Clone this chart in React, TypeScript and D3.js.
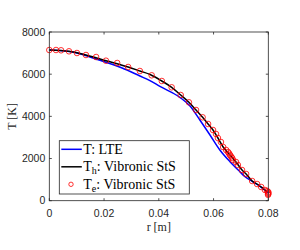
import React from 'react';
import * as d3 from 'd3';

const width = 300;
const height = 250;
const margin = { left: 49.3, right: 31.7, top: 32, bottom: 49.3 };
const innerW = width - margin.left - margin.right;
const innerH = height - margin.top - margin.bottom;

// T: LTE (blue line)
const lteR = [0, 0.0083, 0.0182, 0.0266, 0.0331, 0.0364, 0.0404, 0.0477, 0.0514, 0.0550, 0.0587, 0.0623, 0.0660, 0.0690, 0.0715, 0.0741, 0.0770, 0.0800];
const lteT = [7146, 7051, 6672, 6293, 5913, 5720, 5420, 4900, 4491, 3827, 3116, 2404, 1849, 1456, 1138, 920, 680, 365];

// Th: Vibronic StS (black line)
const thR = [0, 0.0072, 0.0134, 0.0207, 0.0288, 0.0331, 0.0370, 0.0411, 0.0447, 0.0480, 0.0510, 0.0536, 0.0560, 0.0580, 0.0598, 0.0616, 0.0635, 0.0660, 0.0682, 0.0704, 0.0719, 0.0741, 0.0759, 0.0774, 0.0788, 0.0795];
const thT = [7146, 7085, 6909, 6639, 6340, 6150, 5975, 5676, 5377, 5012, 4666, 4301, 3955, 3637, 3353, 2973, 2547, 2167, 1835, 1456, 1266, 934, 792, 650, 507, 427];

// Te: Vibronic StS (red circles)
const teR = [0, 0.00245, 0.0043, 0.0072, 0.0101, 0.0134, 0.0171, 0.0207, 0.0248, 0.0288, 0.0331, 0.0374, 0.0411, 0.0447, 0.0480, 0.0510, 0.0536, 0.0560, 0.0580, 0.0598, 0.0609, 0.0616, 0.0627, 0.0635, 0.0646, 0.0653, 0.0657, 0.0660, 0.0664, 0.0668, 0.0671, 0.0682, 0.0689, 0.0704, 0.0719, 0.0741, 0.0759, 0.0774, 0.0788, 0.0796, 0.0800, 0.0800, 0.0800, 0.0799];
const teT = [7146, 7146, 7132, 7085, 7004, 6909, 6814, 6639, 6530, 6340, 6150, 5946, 5676, 5377, 5012, 4666, 4301, 3955, 3637, 3353, 3163, 2973, 2784, 2547, 2404, 2309, 2238, 2167, 2096, 2025, 1930, 1835, 1693, 1456, 1266, 934, 792, 650, 507, 460, 413, 365, 318, 280];

const xTicks = [0, 0.02, 0.04, 0.06, 0.08];
const yTicks = [0, 2000, 4000, 6000, 8000];

const x = d3.scaleLinear().domain([0, 0.08]).range([0, innerW]);
const y = d3.scaleLinear().domain([0, 8000]).range([innerH, 0]);

const axisColor = '#262626';
const tickFont = 'Liberation Sans';
const texFont = 'Liberation Serif';

function makePath(rs: number[], ts: number[]) {
  const line = d3.line<number>()
    .x(d => x(d))
    .y((d, i) => y(ts[i]))
    .curve(d3.curveMonotoneX);
  return line(rs) || '';
}

const legendRows = [
  { sub: '', rest: ': LTE', kind: 'line', color: '#0000ff' },
  { sub: 'h', rest: ': Vibronic StS', kind: 'line', color: '#000' },
  { sub: 'e', rest: ': Vibronic StS', kind: 'circle', color: '#ff0000' },
];

export default function App() {
  const tk = 2.5;
  return (
    <svg width={width} height={height} style={{ position: 'absolute', left: 0, top: 0 }}>
      <rect width={width} height={height} fill="#fff" />
      <g transform={`translate(${margin.left}, ${margin.top})`}>
        <path d={makePath(lteR, lteT)} fill="none" stroke="#0000ff" strokeWidth={1.5} />
        <path d={makePath(thR, thT)} fill="none" stroke="#000" strokeWidth={1.5} />
        {teR.map((r, i) => (
          <circle key={i} cx={x(r)} cy={y(teT[i])} r={2.8} fill="none" stroke="#ff0000" strokeWidth={0.8} />
        ))}

        {/* box */}
        <rect x={0} y={0} width={innerW} height={innerH} fill="none" stroke={axisColor} strokeWidth={0.8} />

        {/* x ticks */}
        {xTicks.map(t => (
          <g key={'x' + t}>
            <line x1={x(t)} x2={x(t)} y1={innerH} y2={innerH - tk} stroke={axisColor} strokeWidth={0.8} />
            <line x1={x(t)} x2={x(t)} y1={0} y2={tk} stroke={axisColor} strokeWidth={0.8} />
            <text x={x(t)} y={innerH + 16} textAnchor="middle" fontFamily={tickFont} fontSize={10.5} fill={axisColor}>
              {String(t)}
            </text>
          </g>
        ))}

        {/* y ticks */}
        {yTicks.map(t => (
          <g key={'y' + t}>
            <line x1={0} x2={tk} y1={y(t)} y2={y(t)} stroke={axisColor} strokeWidth={0.8} />
            <line x1={innerW} x2={innerW - tk} y1={y(t)} y2={y(t)} stroke={axisColor} strokeWidth={0.8} />
            <text x={-4} y={y(t)} dy="0.35em" textAnchor="end" fontFamily={tickFont} fontSize={10.5} fill={axisColor}>
              {String(t)}
            </text>
          </g>
        ))}
      </g>

      <text x={margin.left + innerW / 2} y={231} textAnchor="middle" fontFamily={texFont} fontSize={12} fill={axisColor}>
        r [m]
      </text>
      <text
        transform={`translate(16, ${margin.top + innerH / 2}) rotate(-90)`}
        textAnchor="middle"
        fontFamily={texFont}
        fontSize={12}
        fill={axisColor}
      >
        T [K]
      </text>

      <g transform="translate(59.3, 140.7)">
        <rect width={130} height={53.3} fill="#fff" stroke={axisColor} strokeWidth={0.8} />
        {legendRows.map((row, i) => {
          const cy = 8.6 + i * 17.5;
          return (
            <g key={i}>
              {row.kind === 'line' ? (
                <line x1={2} x2={22.5} y1={cy} y2={cy} stroke={row.color} strokeWidth={1.5} />
              ) : (
                <circle cx={11.7} cy={cy} r={2.2} fill="none" stroke={row.color} strokeWidth={0.8} />
              )}
              <text x={24} y={cy + 4.5} fontFamily={texFont} fontSize={14} fill="#000">
                <tspan>T</tspan>
                {row.sub ? (
                  <>
                    <tspan dy={3} fontSize={10}>{row.sub}</tspan>
                    <tspan dy={-3}>{row.rest}</tspan>
                  </>
                ) : (
                  <tspan>{row.rest}</tspan>
                )}
              </text>
            </g>
          );
        })}
      </g>
    </svg>
  );
}
